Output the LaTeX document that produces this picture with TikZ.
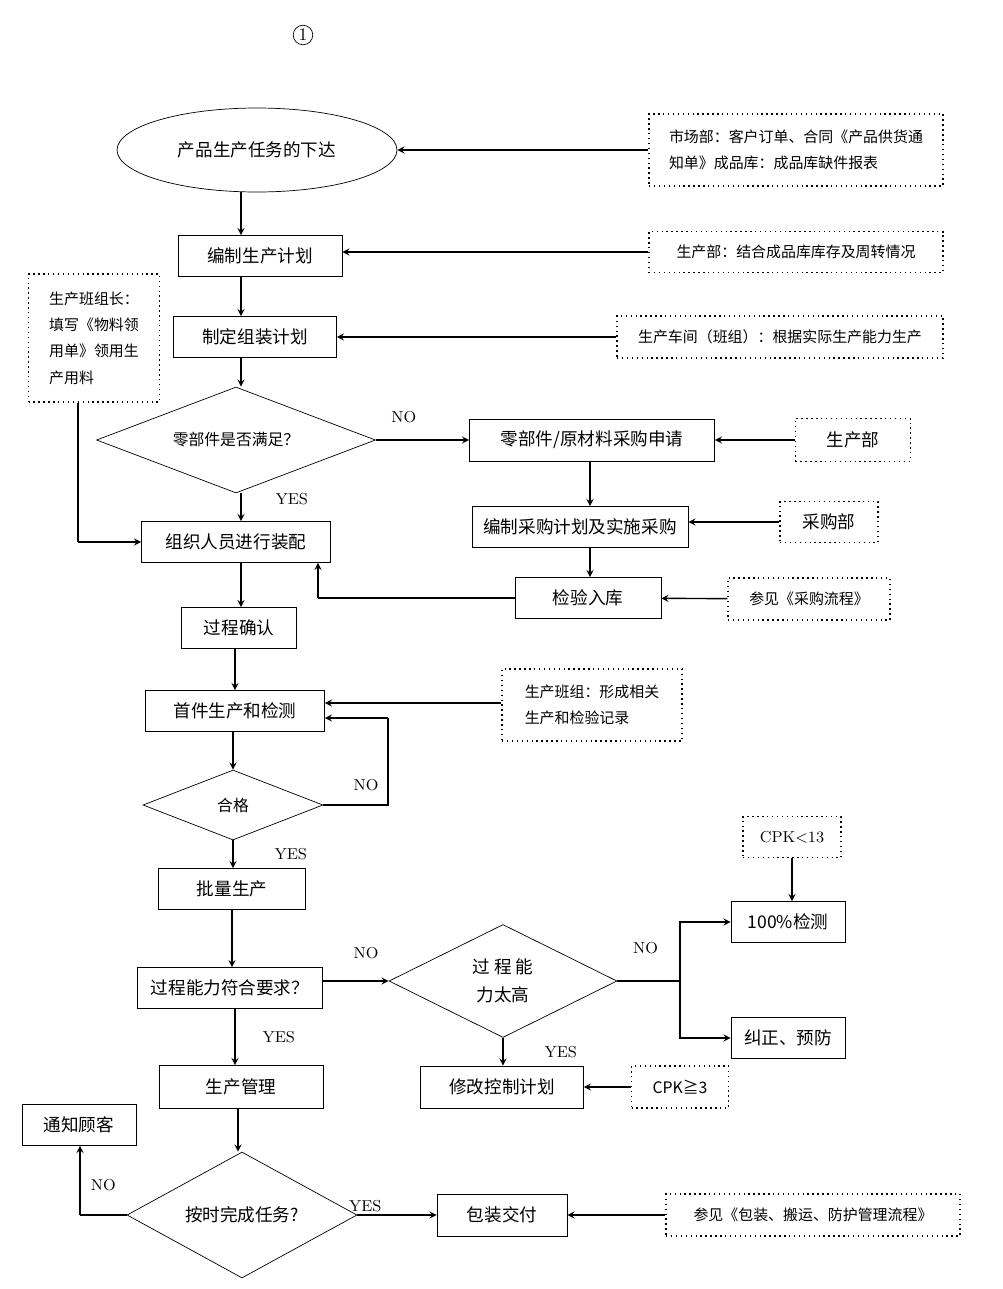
\documentclass[tikz,border=0pt]{standalone}
\usepackage{fontspec}
\newfontfamily\cjk{Noto Sans CJK SC}
\usetikzlibrary{shapes.geometric,calc}
\begin{document}
\begin{tikzpicture}[x=0.02cm,y=-0.02cm,>=stealth,
  box/.style={draw,rectangle,font=\cjk\fontsize{10}{12}\selectfont,inner sep=1pt},
  note/.style={draw,dotted,thick,rectangle,font=\cjk\fontsize{8.5}{15}\selectfont,align=left,inner sep=1pt},
  dia/.style={draw,diamond,aspect=2.4,inner sep=0pt,font=\cjk\fontsize{9}{14}\selectfont,align=center},
  lbl/.style={font=\rmfamily\fontsize{9}{10}\selectfont},
  arr/.style={->,thick}]
\useasboundingbox (0,0) rectangle (1003,1289);
%
\node[circle,draw,inner sep=1pt,font=\rmfamily] (num) at (303,35) {1};
\node[draw,ellipse,minimum width=5.6cm,minimum height=1.68cm,font=\cjk\fontsize{10}{12}\selectfont] (task) at (257,150) {产品生产任务的下达};
\node[note,minimum width=5.88cm,minimum height=1.44cm] (market) at (796,150) {市场部：客户订单、合同《产品供货通\\知单》成品库：成品库缺件报表};
\node[box,minimum width=3.28cm,minimum height=0.82cm] (plan) at (260,256) {编制生产计划};
\node[note,minimum width=5.88cm,minimum height=0.82cm] (prodstock) at (796,252) {生产部：结合成品库库存及周转情况};
\node[note,minimum width=2.62cm,minimum height=2.56cm] (leader) at (94,338) {生产班组长：\\填写《物料领\\用单》领用生\\产用料};
\node[box,minimum width=3.26cm,minimum height=0.82cm] (assy) at (255,337) {制定组装计划};
\node[note,minimum width=6.52cm,minimum height=0.84cm] (shop) at (780,337) {生产车间（班组）：根据实际生产能力生产};
\node[dia,minimum width=5.58cm,minimum height=2.12cm] (parts) at (236,440) {零部件是否满足？};
\node[box,minimum width=4.9cm,minimum height=0.84cm] (request) at (592,440) {零部件/原材料采购申请};
\node[note,minimum width=2.3cm,minimum height=0.86cm,font=\cjk\fontsize{10}{12}\selectfont] (proddept) at (853,440) {生产部};
\node[box,minimum width=3.78cm,minimum height=0.82cm] (organize) at (236,542) {组织人员进行装配};
\node[box,minimum width=4.32cm,minimum height=0.82cm] (purplan) at (580,527) {编制采购计划及实施采购};
\node[note,minimum width=1.96cm,minimum height=0.82cm,font=\cjk\fontsize{10}{12}\selectfont] (purdept) at (829,522) {采购部};
\node[box,minimum width=2.92cm,minimum height=0.82cm] (inspect) at (588,598) {检验入库};
\node[note,minimum width=3.24cm,minimum height=0.84cm] (purflow) at (809,599) {参见《采购流程》};
\node[box,minimum width=2.3cm,minimum height=0.82cm] (confirm) at (239,628) {过程确认};
\node[box,minimum width=3.58cm,minimum height=0.82cm] (first) at (235,711) {首件生产和检测};
\node[note,minimum width=3.6cm,minimum height=1.44cm] (record) at (592,705) {生产班组：形成相关\\生产和检验记录};
\node[dia,minimum width=3.6cm,minimum height=1.4cm] (ok) at (233,805) {合格};
\node[box,minimum width=2.94cm,minimum height=0.82cm] (batch) at (232,889) {批量生产};
\node[note,minimum width=1.96cm,minimum height=0.82cm,font=\rmfamily\fontsize{9}{10}\selectfont] (cpklow) at (792,837) {CPK<13};
\node[box,minimum width=2.28cm,minimum height=0.82cm] (full) at (788,922) {100\%检测};
\node[box,minimum width=3.7cm,minimum height=0.82cm] (capable) at (230,988) {过程能力符合要求？};
\node[dia,minimum width=4.56cm,minimum height=2.26cm,font=\cjk\fontsize{10}{16}\selectfont] (high) at (503,981) {过\ 程\ 能\\力太高};
\node[box,minimum width=2.28cm,minimum height=0.82cm] (correct) at (788,1038) {纠正、预防};
\node[box,minimum width=3.28cm,minimum height=0.86cm] (manage) at (241,1087) {生产管理};
\node[box,minimum width=3.26cm,minimum height=0.84cm] (modify) at (502,1087) {修改控制计划};
\node[note,minimum width=1.94cm,minimum height=0.84cm,font=\cjk\fontsize{9}{10}\selectfont] (cpkhigh) at (680,1087) {CPK≧3};
\node[box,minimum width=2.28cm,minimum height=0.82cm] (notify) at (79,1125) {通知顾客};
\node[dia,minimum width=4.6cm,minimum height=2.52cm,font=\cjk\fontsize{10}{12}\selectfont] (ontime) at (242,1215) {按时完成任务?};
\node[box,minimum width=2.6cm,minimum height=0.84cm] (pack) at (502,1215) {包装交付};
\node[note,minimum width=5.88cm,minimum height=0.84cm] (packflow) at (813,1215) {参见《包装、搬运、防护管理流程》};
%
\node[lbl] (lno1) at (366,785) {NO};
\node[lbl] (lno2) at (366,953) {NO};
%
\coordinate (c1) at (78,542);
\coordinate (c2) at (318,598);
\coordinate (c3) at (388,805);
\coordinate (c4) at (388,718);
\coordinate (c5) at (680,981);
\coordinate (c6) at (80,1215);
%
\draw[arr] (market) -- (task);
\draw[arr] (task.south -| 241,0) -- (plan.north -| 241,0);
\draw[arr] (prodstock) -- (prodstock -| plan.east);
\draw[arr] (plan.south -| 241,0) -- (assy.north -| 241,0);
\draw[arr] (shop) -- (assy);
\draw[arr] (assy.south -| 241,0) -- (parts.north -| 241,0);
\draw[arr] (parts) -- (request) node[lbl,pos=0.3,above=6pt] {NO};
\draw[arr] (proddept) -- (request);
\draw[arr] (parts.south -| 241,0) -- (organize.north -| 241,0) node[lbl,pos=0.2,right=16pt] {YES};
\draw[thick] (leader.south -| c1) -- (c1);
\draw[arr] (c1) -- (organize.west);
\draw[arr] (request.south -| 590,0) -- (purplan.north -| 590,0);
\draw[arr] (purdept) -- (purdept -| purplan.east);
\draw[arr] (purplan.south -| 590,0) -- (inspect.north -| 590,0);
\draw[arr] (purflow) -- (inspect);
\draw[thick] (inspect.west) -- (c2);
\draw[arr] (c2) -- (organize.south -| c2);
\draw[arr] (organize.south -| 241,0) -- (confirm.north -| 241,0);
\draw[arr] (confirm.south -| 235,0) -- (first.north -| 235,0);
\draw[arr] (record.west |- 0,703) -- (first.east |- 0,703);
\draw[arr] (first.south -| 233,0) -- (ok.north);
\draw[thick] (ok.east) -- (c3) -- (c4);
\draw[arr] (c4) -- (first.east |- c4);
\draw[arr] (ok.south) -- (batch.north -| ok) node[lbl,midway,right=20pt] {YES};
\draw[arr] (batch.south -| 232,0) -- (capable.north -| 232,0);
\draw[arr] (capable.east |- high) -- (high.west);
\draw[thick] (high.east) -- (c5) node[lbl,pos=0.45,above=12pt] {NO};
\draw[arr] (c5) |- (full.west);
\draw[arr] (c5) |- (correct.west);
\draw[arr] (cpklow) -- (cpklow |- full.north);
\draw[arr] (capable.south -| 235,0) -- (manage.north -| 235,0) node[lbl,midway,right=12pt] {YES};
\draw[arr] (high.south) -- (modify.north -| high) node[lbl,midway,right=20pt] {YES};
\draw[arr] (cpkhigh) -- (modify);
\draw[arr] (manage.south -| 238,0) -- (ontime.north -| 238,0);
\draw[thick] (ontime.west) -- (c6) node[lbl,midway,above=10pt] {NO};
\draw[arr] (c6) -- (notify.south -| c6);
\draw[arr] (ontime.east) -- (pack.west) node[lbl,pos=0.1,above=-2pt] {YES};
\draw[arr] (packflow) -- (pack);
%
\end{tikzpicture}
\end{document}
